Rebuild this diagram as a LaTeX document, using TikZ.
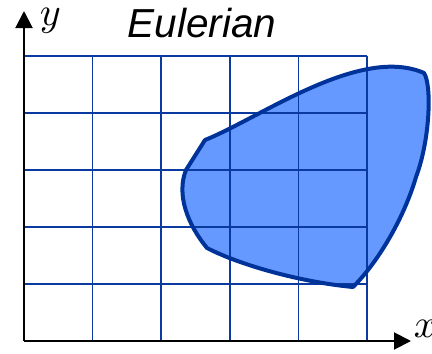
\documentclass[tikz,border=0pt]{standalone}
\usepackage{fontspec}
\setmainfont{Liberation Sans}
\usetikzlibrary{arrows.meta}

\definecolor{blobfill}{HTML}{6699FF}
\definecolor{blobline}{HTML}{003399}
\definecolor{gridline}{HTML}{0A3AA0}

\tikzset{
    axis/.style={line width=2pt, black, -{Triangle[length=17pt,width=17pt]}},
    gridrule/.style={gridline, line width=1.5pt},
    blob/.style={blobline, line width=4pt, line join=round},
    axislabel/.style={inner sep=0pt, anchor=base west, scale=4},
}

\begin{document}
\begin{tikzpicture}[x=1pt, y=-1pt]
        \useasboundingbox (0,0) rectangle (432,354);
        \def\cellw{68.6}
        \def\cellh{57}

        % Region outline
        \def\region{(205,140) .. controls (260,118) and (360,45) .. (424,73)
            .. controls (432,85) and (430,140) .. (416,177)
            .. controls (405,215) and (380,260) .. (353,287)
            .. controls (300,282) and (240,265) .. (207,248)
            .. controls (188,225) and (176,195) .. (186,170)
            -- cycle}

        % Filled region
        \fill[blobfill] \region;

        % Grid lines
        \foreach \i in {0,...,5} {
            \draw[gridrule] (24 + \i*\cellw, 56) -- (24 + \i*\cellw, 341);
            \draw[gridrule] (24, 56 + \i*\cellh) -- (367, 56 + \i*\cellh);
        }

        % Region border
        \draw[blob] \region;

        % Axes
        \coordinate (origin) at (24, 341);
        \coordinate (xend) at (411, 341);
        \coordinate (yend) at (24, 11);
        \draw[axis] (origin) -- (xend);
        \draw[axis] (origin) -- (yend);
        \node[axislabel] (xlabel) at (413, 337) {$x$};
        \node[axislabel] (ylabel) at (39, 25) {$y$};

        % Title
        \node[inner sep=0pt, anchor=base, font=\fontsize{40.5}{40.5}\selectfont\itshape] (title) at (202, 37) {Eulerian};
    \end{tikzpicture}
\end{document}
